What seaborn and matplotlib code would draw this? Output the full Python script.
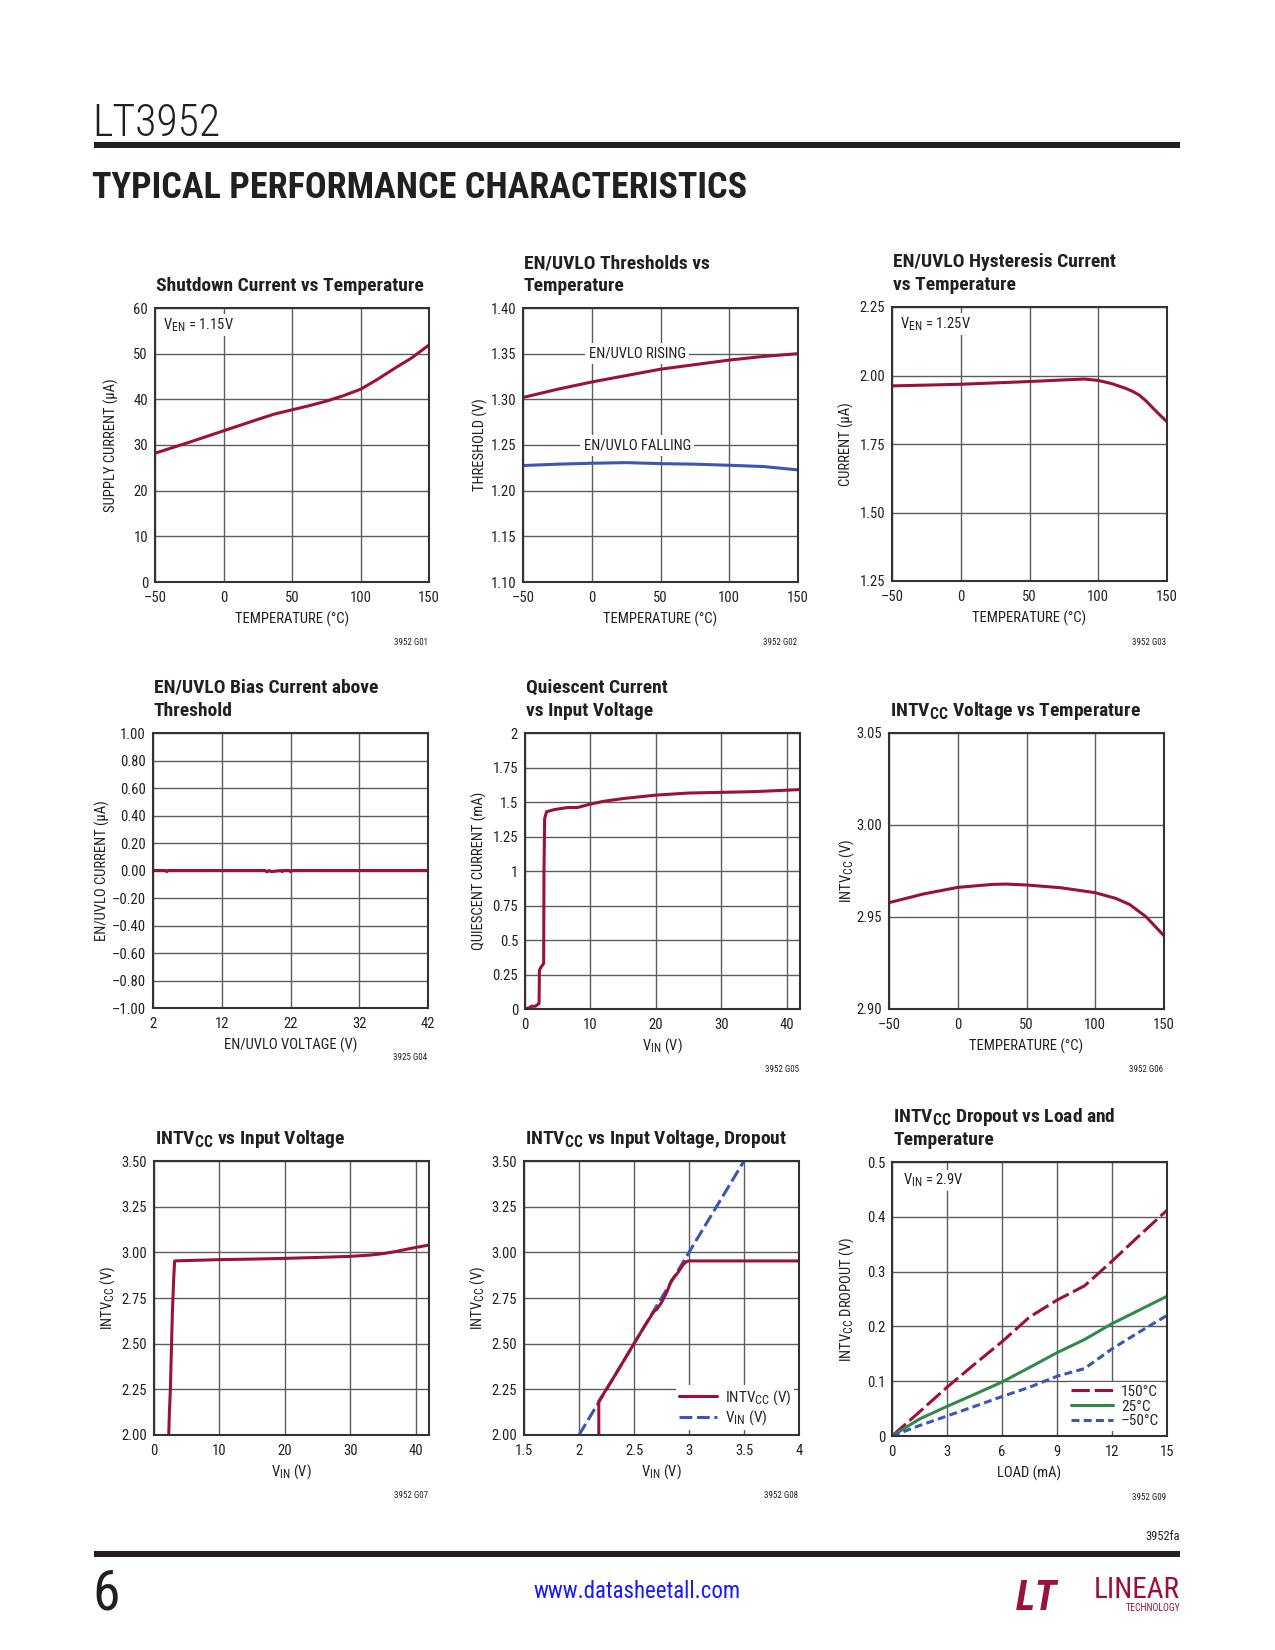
import numpy as np
import pandas as pd
import seaborn as sns
import matplotlib
matplotlib.use("Agg")
import matplotlib.pyplot as plt
import matplotlib.font_manager as fm
from matplotlib.lines import Line2D
from matplotlib.patches import Rectangle

try:
    import matplotlib._mathtext as _mt
    _mt.SHRINK_FACTOR = 0.8
except Exception:
    pass

# ---------------- data ----------------
temp_g01 = [-50, -25, 0, 25, 37.5, 50, 62.5, 75, 87.5, 100, 112, 125, 137, 150]
supply_current_g01 = [28.2, 30.6, 33.1, 35.6, 36.8, 37.7, 38.6, 39.6, 40.8, 42.2, 44.3,
                      46.8, 49.0, 51.9]

temp_g02 = [-50, -25, 0, 25, 50, 75, 100, 125, 150]
rising_g02 = [1.302, 1.311, 1.319, 1.326, 1.333, 1.338, 1.343, 1.347, 1.350]
falling_g02 = [1.2275, 1.229, 1.230, 1.2307, 1.2296, 1.229, 1.2278, 1.2264, 1.2227]

temp_g03 = [-50, 0, 50, 80, 90, 100, 110, 120, 125, 130, 135, 140, 145, 150]
hyst_current_g03 = [1.962, 1.968, 1.978, 1.985, 1.987, 1.982, 1.970, 1.953, 1.942, 1.928,
                    1.906, 1.880, 1.855, 1.831]

bias_voltage_g04 = [2, 3.8, 4.0, 4.2, 18.3, 18.6, 18.9, 19.2, 20.6, 20.8, 21.0, 21.8, 22.0, 22.2, 42]
bias_current_g04 = [0, 0, -0.008, 0, 0, -0.01, 0, -0.008, 0, -0.008, 0, 0, -0.008, 0, 0]

vin_g05 = [0, 0.7, 1.0, 1.6, 2.0, 2.15, 2.2, 2.4, 2.85, 2.9, 3.0, 3.3, 4.5, 6.5, 8.0, 10.0,
           12, 15, 20, 25, 30, 35, 42]
iq_g05 = [0, 0.01, 0.02, 0.02, 0.035, 0.04, 0.28, 0.30, 0.33, 1.0, 1.38, 1.43, 1.445, 1.46,
          1.46, 1.485, 1.505, 1.525, 1.55, 1.565, 1.57, 1.575, 1.59]

temp_g06 = [-50, -25, 0, 25, 35, 50, 75, 100, 115, 125, 137, 150]
intvcc_g06 = [2.9578, 2.9625, 2.9661, 2.9677, 2.9679, 2.9674, 2.9659, 2.9632, 2.9601,
              2.9568, 2.9501, 2.9398]

vin_g07 = [2.25, 2.35, 2.5, 2.8, 3.0, 3.15, 5, 10, 15, 20, 25, 30, 33, 35, 37, 39, 42]
intvcc_g07 = [2.0, 2.12, 2.25, 2.66, 2.85, 2.953, 2.955, 2.96, 2.963, 2.967, 2.972, 2.978,
              2.985, 2.993, 3.005, 3.02, 3.04]

vin_g08 = [2.18, 2.18, 2.3, 2.4, 2.5, 2.6, 2.68, 2.71, 2.75, 2.8, 2.84, 2.9, 2.95, 2.98,
           3.0, 3.5, 4.0]
intvcc_g08 = [2.0, 2.184, 2.3, 2.4, 2.5, 2.6, 2.675, 2.69, 2.725, 2.785, 2.845, 2.89,
              2.935, 2.95, 2.953, 2.953, 2.953]
vin_line_x_g08 = [2.0, 3.5]
vin_line_y_g08 = [2.0, 3.5]

load_g09 = [0, 1.5, 3, 4.5, 6, 7.5, 9, 10.5, 12, 13.5, 15]
drop_150_g09 = [0, 0.044, 0.089, 0.131, 0.172, 0.217, 0.248, 0.274, 0.319, 0.366, 0.412]
drop_25_g09 = [0, 0.031, 0.054, 0.076, 0.0985, 0.125, 0.152, 0.176, 0.205, 0.230, 0.255]
drop_m50_g09 = [0, 0.019, 0.0365, 0.054, 0.072, 0.089, 0.109, 0.123, 0.159, 0.190, 0.220]

temp_ticks = [-50, 0, 50, 100, 150]
temp_ticklabels = ["–50", "0", "50", "100", "150"]

# ---------------- style ----------------
sns.set_theme(style="white")
names = {f.name for f in fm.fontManager.ttflist}
if "Liberation Sans Narrow" in names:
    COND = "Liberation Sans Narrow"
elif "Roboto Condensed" in names:
    COND = "Roboto Condensed"
else:
    COND = "DejaVu Sans"
plt.rcParams["font.family"] = [COND, "DejaVu Sans"]
plt.rcParams["font.stretch"] = "condensed"
plt.rcParams["mathtext.default"] = "regular"

RED = "#9B1239"
BLUE = "#3B57B3"
GREEN = "#33894C"
GRID = "#5c5c5c"
SPINE = "#333333"
TXT = "#231f20"
TICK = 10.5
LAB = 10.5
TITLE = 14
LW = 2.2

W, H = 1275, 1650
fig = plt.figure(figsize=(W / 100, H / 100), dpi=100)
fig.patch.set_facecolor("white")


def fx(x):
    return x / W


def fy(y):
    return 1 - y / H


def make_ax(l, t, r, b):
    return fig.add_axes([l / W, 1 - b / H, (r - l) / W, (b - t) / H])


def setup(ax, box, xlim, ylim, xt, xtl, yt, ytl, xlabel, ylabel, ylab_off, title, note,
          note_off=61):
    l, t, r, b = box
    ax.set_xlim(xlim)
    ax.set_ylim(ylim)
    ax.set_xticks(xt)
    ax.set_xticklabels(xtl)
    ax.set_yticks(yt)
    ax.set_yticklabels(ytl)
    ax.grid(True, color=GRID, lw=1.0)
    ax.set_axisbelow(True)
    ax.tick_params(length=0, labelsize=TICK, colors=TXT)
    ax.tick_params(axis="x", pad=6.5)
    ax.tick_params(axis="y", pad=5)
    for s in ax.spines.values():
        s.set_color(SPINE)
        s.set_linewidth(1.5)
        s.set_visible(True)
    ax.set_xlabel(xlabel, fontsize=LAB, color=TXT)
    ax.set_ylabel(ylabel, fontsize=LAB, color=TXT)
    w, h = r - l, b - t
    ax.xaxis.set_label_coords(0.5, -37 / h)
    ax.yaxis.set_label_coords(-ylab_off / w, 0.5)
    ax.xaxis.label.set_va("center")
    ax.yaxis.label.set_va("center")
    lines = title.split("\n")
    n = len(lines)
    for i, line in enumerate(lines):
        yb = t - 17 - 23 * (n - 1 - i)
        fig.text(fx(l + 1), fy(yb), line, fontsize=TITLE, fontweight="bold",
                 color=TXT, va="baseline", ha="left")
    fig.text(fx(r - 1), fy(b + note_off), note, fontsize=6.5, color=TXT,
             ha="right", va="center")


def line(ax, x, y, color, ls="-", label=None):
    df = pd.DataFrame({"x": x, "y": y})
    kw = dict(data=df, x="x", y="y", ax=ax, color=color, linewidth=LW, sort=False,
              estimator=None, linestyle=ls)
    if label is not None:
        kw["label"] = label
    sns.lineplot(**kw)


def note_box(ax, s, x=0.03, y=0.97):
    ax.text(x, y, s, transform=ax.transAxes, fontsize=LAB, color=TXT, va="top",
            ha="left", zorder=5,
            bbox=dict(facecolor="white", edgecolor="none", pad=1.5))


# ---------------- header / footer ----------------
fig.text(fx(92), fy(136), "LT3952", fontsize=31.5, color=TXT, va="baseline", ha="left",
         fontweight="light")
fig.add_artist(Rectangle((fx(94), fy(148)), fx(1180) - fx(94), 6 / H,
                         transform=fig.transFigure, color=TXT, lw=0))
fig.text(fx(92), fy(198), "TYPICAL PERFORMANCE CHARACTERISTICS", fontsize=26,
         fontweight="heavy", color=TXT, va="baseline", ha="left")

fig.text(fx(1180), fy(1537), "3952fa", fontsize=9, color=TXT, ha="right", va="center")
fig.add_artist(Rectangle((fx(94), fy(1557)), fx(1180) - fx(94), 6 / H,
                         transform=fig.transFigure, color=TXT, lw=0))
fig.text(fx(92), fy(1610), "6", fontsize=40, color=TXT, ha="left", va="baseline")
fig.text(fx(637), fy(1591), "www.datasheetall.com", fontsize=16.5, color="#1a1aff",
         ha="center", va="center")
fig.text(fx(1016), fy(1610), "LT", fontsize=30, fontweight="bold", style="italic",
         color=RED, ha="left", va="baseline")
fig.text(fx(1180), fy(1598), "LINEAR", fontsize=21, color=RED, ha="right",
         va="baseline")
fig.text(fx(1180), fy(1611), "TECHNOLOGY", fontsize=7, color=RED, ha="right",
         va="baseline")

# ---------------- G01 ----------------
b1 = (155, 308, 429, 582)
ax = make_ax(*b1)
line(ax, temp_g01, supply_current_g01, RED)
setup(ax, b1, (-50, 150), (0, 60), temp_ticks, temp_ticklabels,
      [0, 10, 20, 30, 40, 50, 60], ["0", "10", "20", "30", "40", "50", "60"],
      "TEMPERATURE (°C)", "SUPPLY CURRENT (µA)", 44,
      "Shutdown Current vs Temperature", "3952 G01")
note_box(ax, "V$_{EN}$ = 1.15V")

# ---------------- G02 ----------------
b2 = (523, 308, 798, 582)
ax = make_ax(*b2)
line(ax, temp_g02, rising_g02, RED)
line(ax, temp_g02, falling_g02, BLUE)
setup(ax, b2, (-50, 150), (1.10, 1.40), temp_ticks, temp_ticklabels,
      [1.10, 1.15, 1.20, 1.25, 1.30, 1.35, 1.40],
      ["1.10", "1.15", "1.20", "1.25", "1.30", "1.35", "1.40"],
      "TEMPERATURE (°C)", "THRESHOLD (V)", 43,
      "EN/UVLO Thresholds vs\nTemperature", "3952 G02")
for s, yv in [("EN/UVLO RISING", 1.35), ("EN/UVLO FALLING", 1.25)]:
    ax.text(33, yv, s, fontsize=LAB, color=TXT, ha="center", va="center", zorder=5,
            bbox=dict(facecolor="white", edgecolor="none", pad=2.5))

# ---------------- G03 ----------------
b3 = (892, 307, 1167, 581)
ax = make_ax(*b3)
line(ax, temp_g03, hyst_current_g03, RED)
setup(ax, b3, (-50, 150), (1.25, 2.25), temp_ticks, temp_ticklabels,
      [1.25, 1.50, 1.75, 2.00, 2.25], ["1.25", "1.50", "1.75", "2.00", "2.25"],
      "TEMPERATURE (°C)", "CURRENT (µA)", 46,
      "EN/UVLO Hysteresis Current\nvs Temperature", "3952 G03")
note_box(ax, "V$_{EN}$ = 1.25V")

# ---------------- G04 ----------------
b4 = (153, 733, 428, 1008)
ax = make_ax(*b4)
line(ax, bias_voltage_g04, bias_current_g04, RED)
yt4 = [-1.0, -0.8, -0.6, -0.4, -0.2, 0.0, 0.2, 0.4, 0.6, 0.8, 1.0]
ytl4 = ["–1.00", "–0.80", "–0.60", "–0.40", "–0.20", "0.00", "0.20", "0.40", "0.60",
        "0.80", "1.00"]
setup(ax, b4, (2, 42), (-1, 1), [2, 12, 22, 32, 42], ["2", "12", "22", "32", "42"],
      yt4, ytl4, "EN/UVLO VOLTAGE (V)", "EN/UVLO CURRENT (µA)", 51,
      "EN/UVLO Bias Current above\nThreshold", "3925 G04", note_off=50)

# ---------------- G05 ----------------
b5 = (525, 733, 800, 1009)
ax = make_ax(*b5)
line(ax, vin_g05, iq_g05, RED)
setup(ax, b5, (0, 42), (0, 2), [0, 10, 20, 30, 40], ["0", "10", "20", "30", "40"],
      [0, 0.25, 0.5, 0.75, 1, 1.25, 1.5, 1.75, 2],
      ["0", "0.25", "0.5", "0.75", "1", "1.25", "1.5", "1.75", "2"],
      "V$_{IN}$ (V)", "QUIESCENT CURRENT (mA)", 46,
      "Quiescent Current\nvs Input Voltage", "3952 G05", note_off=60)

# ---------------- G06 ----------------
b6 = (889, 733, 1164, 1009)
ax = make_ax(*b6)
line(ax, temp_g06, intvcc_g06, RED)
setup(ax, b6, (-50, 150), (2.90, 3.05), temp_ticks, temp_ticklabels,
      [2.90, 2.95, 3.00, 3.05], ["2.90", "2.95", "3.00", "3.05"],
      "TEMPERATURE (°C)", "INTV$_{CC}$ (V)", 42,
      "INTV$_{CC}$ Voltage vs Temperature", "3952 G06", note_off=60)

# ---------------- G07 ----------------
b7 = (154, 1161, 429, 1435)
ax = make_ax(*b7)
line(ax, vin_g07, intvcc_g07, RED)
yt7 = [2.0, 2.25, 2.5, 2.75, 3.0, 3.25, 3.5]
ytl7 = ["2.00", "2.25", "2.50", "2.75", "3.00", "3.25", "3.50"]
setup(ax, b7, (0, 42), (2, 3.5), [0, 10, 20, 30, 40], ["0", "10", "20", "30", "40"],
      yt7, ytl7, "V$_{IN}$ (V)", "INTV$_{CC}$ (V)", 46,
      "INTV$_{CC}$ vs Input Voltage", "3952 G07")

# ---------------- G08 ----------------
b8 = (524, 1161, 799, 1435)
ax = make_ax(*b8)
line(ax, vin_line_x_g08, vin_line_y_g08, BLUE, ls=(0, (4.2, 1.5)))
line(ax, vin_g08, intvcc_g08, RED)
setup(ax, b8, (1.5, 4), (2, 3.5), [1.5, 2, 2.5, 3, 3.5, 4],
      ["1.5", "2", "2.5", "3", "3.5", "4"], yt7, ytl7,
      "V$_{IN}$ (V)", "INTV$_{CC}$ (V)", 46,
      "INTV$_{CC}$ vs Input Voltage, Dropout", "3952 G08")
h8 = [Line2D([], [], color=RED, lw=LW),
      Line2D([], [], color=BLUE, lw=LW, ls=(0, (4.2, 1.5)))]
leg = ax.legend(h8, ["INTV$_{CC}$ (V)", "V$_{IN}$ (V)"], loc="lower right",
                fontsize=LAB + 0.5, frameon=True, fancybox=False, framealpha=1,
                facecolor="white", edgecolor="none", handlelength=2.5,
                borderaxespad=0.3, borderpad=0.2, labelspacing=0.1, handletextpad=0.5)
leg.get_frame().set_linewidth(0)

# ---------------- G09 ----------------
b9 = (892, 1162, 1167, 1436)
ax = make_ax(*b9)
ls150 = (0, (6, 1.6))
lsm50 = (0, (2.6, 1.4))
line(ax, load_g09, drop_150_g09, RED, ls=ls150)
line(ax, load_g09, drop_25_g09, GREEN)
line(ax, load_g09, drop_m50_g09, BLUE, ls=lsm50)
setup(ax, b9, (0, 15), (0, 0.5), [0, 3, 6, 9, 12, 15],
      ["0", "3", "6", "9", "12", "15"], [0, 0.1, 0.2, 0.3, 0.4, 0.5],
      ["0", "0.1", "0.2", "0.3", "0.4", "0.5"],
      "LOAD (mA)", "INTV$_{CC}$ DROPOUT (V)", 45,
      "INTV$_{CC}$ Dropout vs Load and\nTemperature", "3952 G09")
note_box(ax, "V$_{IN}$ = 2.9V", x=0.04, y=0.965)
h9 = [Line2D([], [], color=RED, lw=LW, ls=ls150),
      Line2D([], [], color=GREEN, lw=LW),
      Line2D([], [], color=BLUE, lw=LW, ls=lsm50)]
leg = ax.legend(h9, ["150°C", "25°C", "–50°C"], loc="lower right", fontsize=LAB + 0.5,
                frameon=True, fancybox=False, framealpha=1, facecolor="white",
                edgecolor="none", handlelength=2.8, borderaxespad=0.3, borderpad=0.2,
                labelspacing=0.05, handletextpad=0.5)
leg.get_frame().set_linewidth(0)

fig.savefig("out.png", dpi=100, facecolor="white")
